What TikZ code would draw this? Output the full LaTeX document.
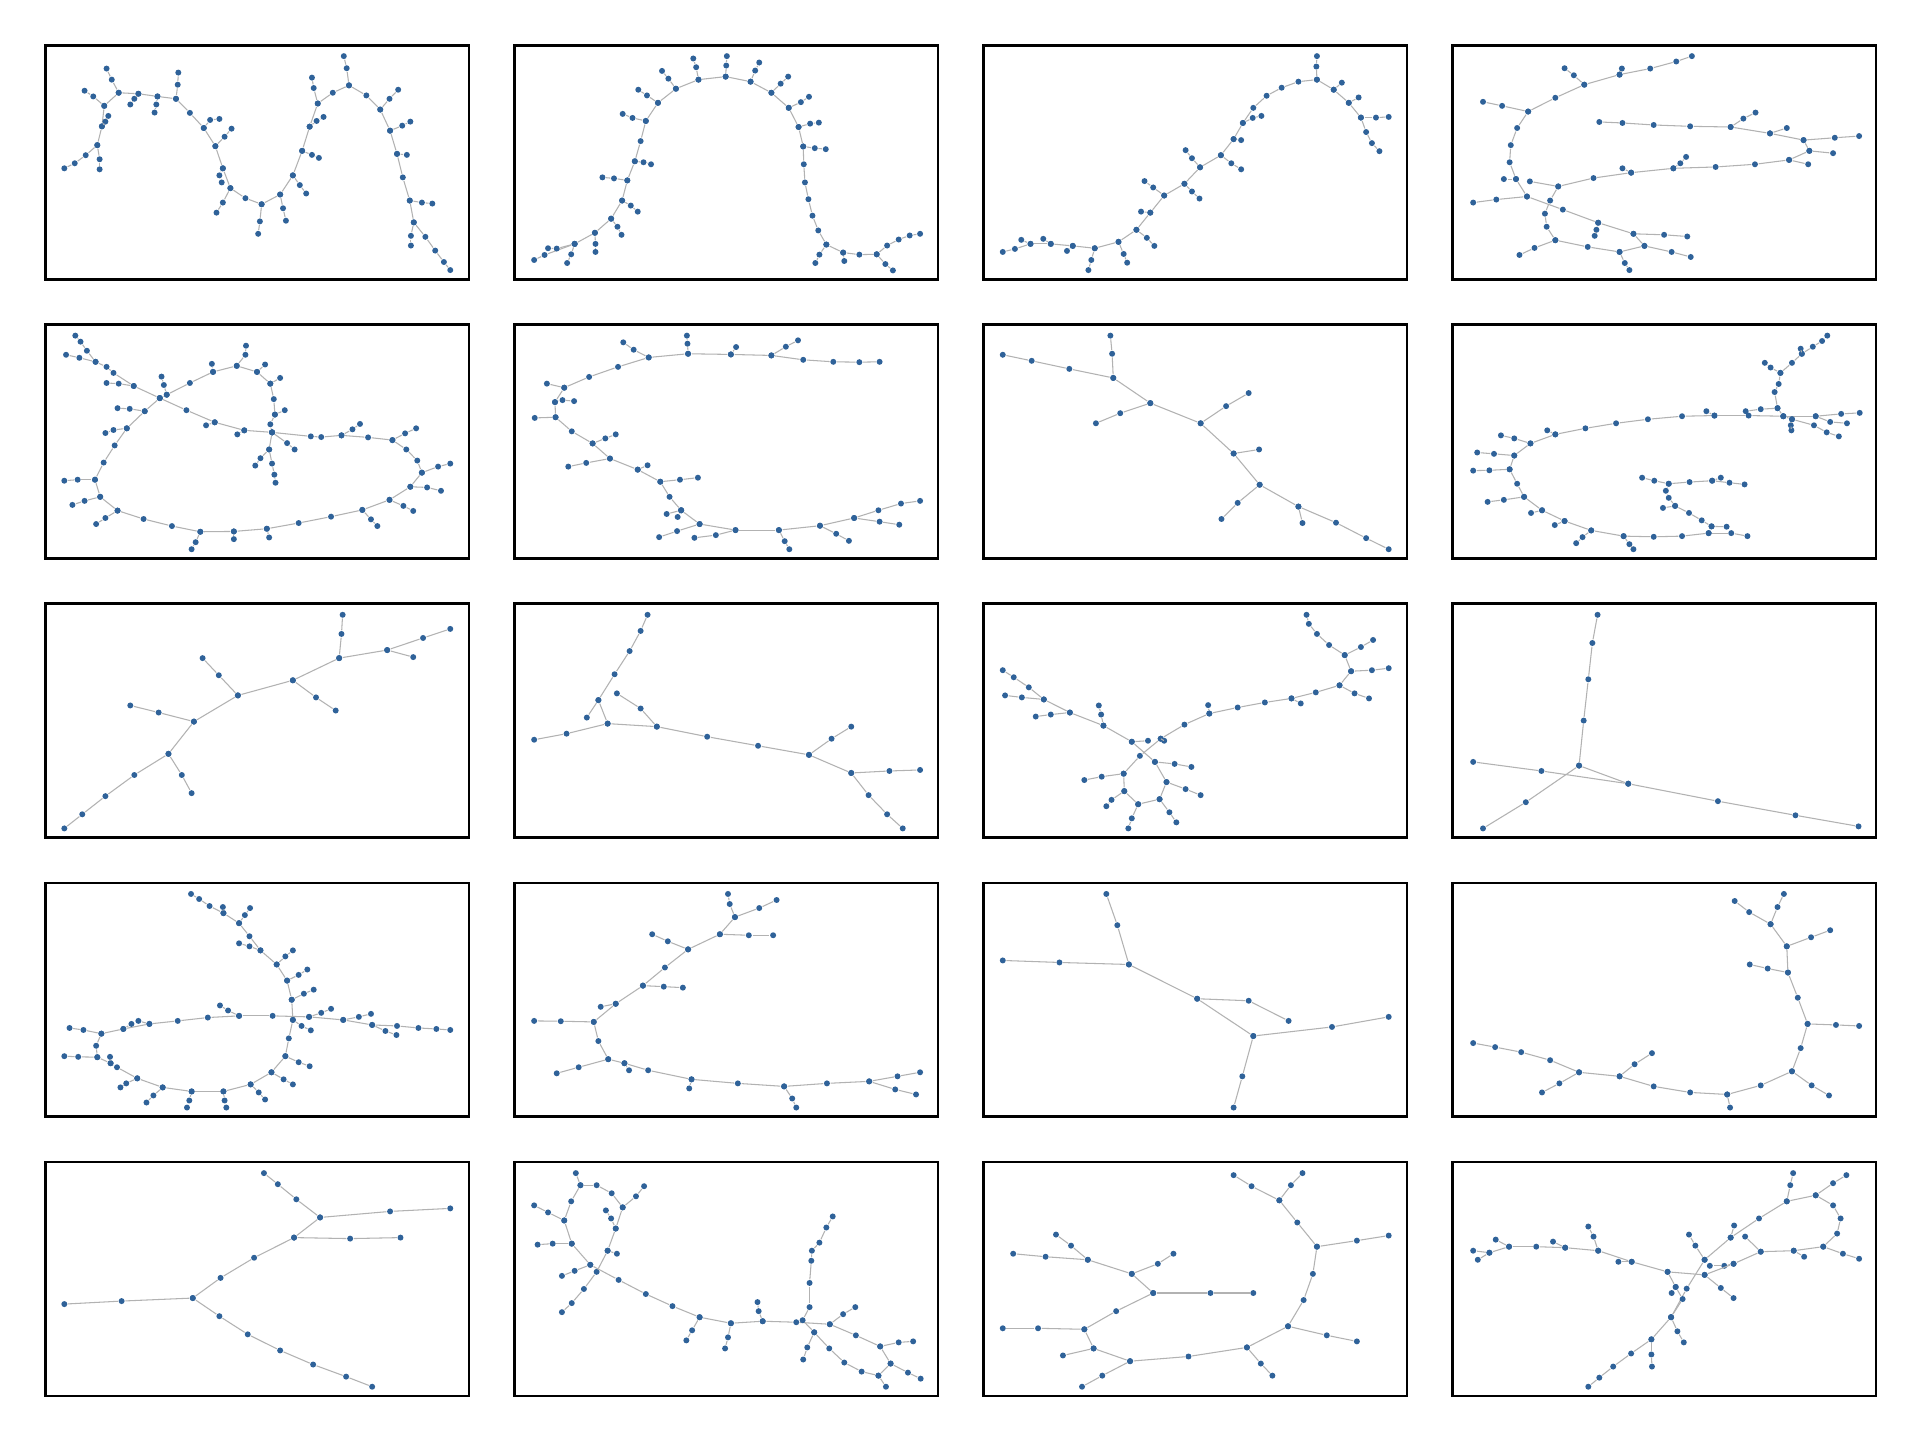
\documentclass[tikz,border=0pt]{standalone}
\definecolor{dotblue}{HTML}{2F6299}
\tikzset{
  dot/.style={circle,fill=dotblue,draw=none,inner sep=0pt,minimum size=1.7pt},
  edge/.style={draw=black!30,line width=0.3pt},
  panelbox/.style={draw=black,line width=0.75pt},
  zs/.style={x=0.00579cm,y=-0.00335cm}
}
\newcommand\tchain[1]{%
  \foreach \px/\py [count=\ci] in {#1}{\node[dot] (c\ci) at (\px,\py) {};}%
  \foreach \px/\py [count=\ci, remember=\ci as \cj (initially 0)] in {#1}{\ifnum\ci>1\relax\draw[edge] (c\cj) -- (c\ci);\fi}%
}
\begin{document}
\begin{tikzpicture}[x=0.01cm,y=-0.01cm]
\useasboundingbox (0,0) rectangle (1920,1440);
\fill[white] (0,0) rectangle (1920,1440);
\foreach \bx in {45.3,514.3,983.3,1452.3}{
  \foreach \by in {45.3,324.5,603.7,882.9,1162.1}{
    \draw[panelbox] (\bx,\by) rectangle ++(423.7,233.9);
  }
}
% ---------- row 1, panels 1-2
\begin{scope}[xshift=0.4cm,yshift=-0.4cm,zs]
\tchain{42/382,60/367,79/343,99/313,107/257,111/196,136/157,170/160,203/168,235/175,259/217,283/262,303/316,316/382,329/441,355/471,383/489,415/460,437/403,453/330,466/258,480/189,506/157,534/135,564/165,588/207,605/270,617/339,627/409,639/478,646/543,666/586,683/627,698/661,709/685}
\tchain{99/313,103/355,103/385}
\tchain{107/257,113/243,118/226}
\tchain{111/196,92/168,77/151}
\tchain{136/157,124/118,115/85}
\tchain{170/160,163/175,156/192}
\tchain{203/168,201/192,198/216}
\tchain{235/175,238/133,239/97}
\tchain{283/262,294/238,310/235}
\tchain{303/316,319/288,331/264}
\tchain{316/382,310/403,314/424}
\tchain{329/441,316/484,305/514}
\tchain{383/489,380/540,377/577}
\tchain{415/460,420/501,425/538}
\tchain{437/403,449/432,460/457}
\tchain{453/330,470/342,482/351}
\tchain{466/258,478/241,490/229}
\tchain{480/189,473/143,470/112}
\tchain{534/135,530/84,525/48}
\tchain{588/207,604/175,619/148}
\tchain{605/270,626/255,640/243}
\tchain{617/339,634/342}
\tchain{639/478,660/484,678/487}
\tchain{646/543,641/583,641/612}
% panel 2
\tchain{854/655,872/640,924/607,959/574,987/532,1006/478,1015/418,1028/361,1038/301,1047/241,1068/187,1099/145,1138/118,1185/109,1228/124,1264/157,1294/202,1311/259,1319/317,1320/370,1322/424,1328/474,1335/523,1345/567,1359/609,1388/633,1416/639,1446/638,1464/612,1484/594,1503/582,1521/577}
\tchain{924/607,893/621,878/620}
\tchain{924/607,918/638,911/664}
\tchain{959/574,960/607,960/631}
\tchain{987/532,998/556,1005/580}
\tchain{1006/478,1021/493,1033/511}
\tchain{1015/418,992/412,972/409}
\tchain{1028/361,1043/364,1056/370}
\tchain{1047/241,1024/232,1007/220}
\tchain{1068/187,1049/165,1034/148}
\tchain{1099/145,1086/115,1075/92}
\tchain{1138/118,1134/81,1129/55}
\tchain{1185/109,1186/76,1187/48}
\tchain{1228/124,1236/91,1243/67}
\tchain{1264/157,1280/130,1293/109}
\tchain{1294/202,1315/185,1329/169}
\tchain{1311/259,1331/249,1346/246}
\tchain{1319/317,1339/322,1358/325}
\tchain{1359/609,1347/639,1340/664}
\tchain{1388/633,1390/658}
\tchain{1446/638,1461/667,1474/686}
\end{scope}
% ---------- row 1, panels 3-4
\begin{scope}[xshift=9.75cm,yshift=-0.4cm,zs]
\tchain{47/631,68/622,95/607,130/607,168/613,206/620,247/601,278/565,302/514,326/463,361/428,388/379,424/343,446/295,462/247,480/202,503/166,529/142,558/124,590/118,619/148,645/187,666/231,675/274,685/307,698/331}
\tchain{95/607,79/595}
\tchain{130/607,117/592}
\tchain{168/613,158/628}
\tchain{206/620,200/655,195/685}
\tchain{247/601,256/637,262/663}
\tchain{278/565,296/589,309/613}
\tchain{302/514,286/511}
\tchain{326/463,307/439,292/420}
\tchain{361/428,374/451,387/472}
\tchain{388/379,374/352,363/328}
\tchain{424/343,442/367,459/385}
\tchain{446/295,459/298}
\tchain{462/247,479/232,494/226}
\tchain{590/118,589/79,590/48}
\tchain{619/148,633/127}
\tchain{645/187,662/171}
\tchain{666/231,692/231,714/229}
% panel 4
\tchain{1238/48,1211/64,1166/85,1113/103,1052/133,1002/172,955/213,936/262,925/313,923/364,934/414,953/466,1015/505,1076/544,1137/577,1190/580,1230/585}
\tchain{1113/103,1117/85}
\tchain{1052/133,1034/105,1018/84}
\tchain{955/213,910/196,877/184}
\tchain{934/414,913/414}
\tchain{953/466,900/475,860/484}
\tchain{1076/544,1073/565,1070/583}
\tchain{958/421,1007/436,1068/411,1133/395,1206/382,1279/378,1347/370,1406/357,1441/330,1431/298,1373/278,1305/259,1235/257,1172/253,1118/247,1078/244}
\tchain{1133/395,1118/382}
\tchain{1206/382,1218/367,1228/348}
\tchain{1406/357,1439/370}
\tchain{1441/330,1482/337}
\tchain{1431/298,1485/291,1527/286}
\tchain{1373/278,1402/262}
\tchain{1305/259,1327/234,1348/216}
\tchain{1007/436,993/478,984/517,987/556,1002/596,1058/616,1113/631,1156/613,1203/631,1236/646}
\tchain{1002/596,966/619,940/640}
\tchain{1113/631,1122/664,1130/685}
\tchain{1156/613,1137/577}
\end{scope}
% ---------- row 2, panels 5-6
\begin{scope}[xshift=0.4cm,yshift=-3.2cm,zs]
\tchain{61/46,70/64,81/91,96/124,115/139,127/157,162/196,207/232,253/268,302/304,353/328,401/334,468/346,486/348,521/343,567/349,609/357,633/385,652/418,660/454,640/496,604/535,557/565,503/585,447/604,392/621,335/629,277/630,228/613,179/592,134/567,104/526,95/475,110/424,129/373,150/322,181/271,207/232}
\tchain{96/124,68/112,45/103}
\tchain{162/196,136/189,115/187}
\tchain{207/232,219/222,259/187,299/154,340/136,375/154,398/189,404/235,406/281,398/310,401/334}
\tchain{219/222,214/193,210/168}
\tchain{299/154,297/130}
\tchain{340/136,355/103,356/76}
\tchain{375/154,389/132}
\tchain{398/189,415/172}
\tchain{406/281,423/268}
\tchain{353/328,341/340}
\tchain{302/304,287/313}
\tchain{401/334,396/385,401/427,405/460,407/484}
\tchain{396/385,381/411,372/433}
\tchain{401/334,427/366,440/385}
\tchain{521/343,540/325,553/309}
\tchain{609/357,631/337,650/322}
\tchain{660/454,688/436,709/427}
\tchain{640/496,669/498,693/508}
\tchain{604/535,628/553,645/568}
\tchain{557/565,572/593,583/613}
\tchain{392/621,396/647}
\tchain{335/629,335/652}
\tchain{277/630,269/661,262/682}
\tchain{134/567,113/589,97/607}
\tchain{104/526,77/538,56/550}
\tchain{95/475,65/475,42/478}
\tchain{150/322,127/327,113/336}
\tchain{181/271,155/264,134/262}
% panel 6
\tchain{1451/124,1416/125,1371/124,1319/118,1264/105,1194/102,1120/100,1052/111,999/139,949/169,906/201,890/244,891/289,919/331,955/367,985/412,1033/445,1072/481,1088/526,1108/566,1140/607,1202/625,1277/625,1348/612,1407/589,1449/566,1488/546,1521/538}
\tchain{1264/105,1289/79,1310/60}
\tchain{1194/102,1203/80}
\tchain{1120/100,1119/70,1118/46}
\tchain{1052/111,1026/88,1008/66}
\tchain{906/201,876/189}
\tchain{890/244,903/238,923/241}
\tchain{891/289,855/291}
\tchain{955/367,977/352,995/340}
\tchain{985/412,944/425,913/436}
\tchain{1033/445,1050/432}
\tchain{1072/481,1106/475,1137/469}
\tchain{1108/566,1083/577}
\tchain{1108/566,1102/586}
\tchain{1140/607,1101/628,1070/646}
\tchain{1202/625,1168/640,1131/648}
\tchain{1277/625,1287/658,1295/682}
\tchain{1348/612,1376/636,1398/657}
\tchain{1407/589,1451/600,1485/609}
\end{scope}
% ---------- row 2, panels 7-8
\begin{scope}[xshift=9.75cm,yshift=-3.2cm,zs]
\tchain{47/103,97/121,162/145,238/172,302/247,389/307,446/397,491/490,558/555,623/603,675/649,714/682}
\tchain{238/172,236/100,233/46}
\tchain{302/247,250/277,208/307}
\tchain{389/307,433/256,472/217}
\tchain{446/397,490/385}
\tchain{491/490,453/544,425/592}
\tchain{558/555,565/604}
% panel 8
\tchain{1528/276,1496/279,1452/286,1396/286,1336/284,1277/284,1221/286,1162/295,1107/307,1054/322,1002/340,959/367,931/403,923/444,936/487,948/526,979/566,1018/598,1064/626,1120/643,1172/645,1221/643,1267/634,1306/634,1334/643}
\tchain{1267/634,1272/614,1255/596,1233/574,1209/553,1198/529,1193/508,1198/487,1234/482,1273/478,1303/484,1329/489}
\tchain{1272/614,1298/615}
\tchain{1209/553,1188/559}
\tchain{1198/487,1173/478,1152/469}
\tchain{1273/478,1288/469}
\tchain{1002/340,988/328}
\tchain{959/367,931/352,908/343}
\tchain{931/403,896/398,867/394}
\tchain{923/444,888/447,860/448}
\tchain{948/526,913/535,885/541}
\tchain{979/566,960/574}
\tchain{1018/598,1001/610}
\tchain{1064/626,1049/646,1038/664}
\tchain{1120/643,1130/667,1137/682}
\tchain{1277/284,1263/271}
\tchain{1396/286,1386/262,1381/214,1388/190,1391/157,1411/127,1428/100,1447/79,1463/62,1472/46}
\tchain{1428/100,1426/85}
\tchain{1391/157,1374/141,1364/127}
\tchain{1386/262,1357/265,1331/271}
\tchain{1396/286,1411/295,1409/313,1410/328}
\tchain{1411/295,1449/313,1471/334,1492/346}
\tchain{1452/286,1477/303,1506/307}
\end{scope}
% ---------- row 3, panels 9-10
\begin{scope}[xshift=0.4cm,yshift=-5.98cm,zs]
\tchain{42/685,73/643,113/589,163/526,222/463,266/367,342/289,437/244,517/178,600/154,662/118,709/91}
\tchain{222/463,245/526,262/580}
\tchain{266/367,205/340,156/319}
\tchain{342/289,309/229,281/178}
\tchain{437/244,477/295,511/334}
\tchain{517/178,521/106,523/49}
\tchain{600/154,645/175}
% panel 10
\tchain{1050/49,1038/97,1019/157,993/226,965/303,981/373,1066/382,1153/412,1241/439,1329/466,1402/520,1468/514,1521/511}
\tchain{965/303,945/355}
\tchain{981/373,910/403,854/421}
\tchain{1066/382,1038/328,997/283}
\tchain{1329/466,1368/418,1402/382}
\tchain{1402/520,1432/586,1464/643,1491/685}
\end{scope}
% ---------- row 3, panels 11-12
\begin{scope}[xshift=9.75cm,yshift=-5.98cm,zs]
\tchain{572/49,576/76,590/106,611/139,638/169,649/217,629/259,588/280,546/298,500/310,453/325,404/343,361/376,320/418,284/469,256/522,257/574,281/613,318/598,330/547,310/487,270/427,221/379,163/340,118/301,92/265,66/235,47/214}
\tchain{638/169,666/145,687/124}
\tchain{649/217,685/214,714/208}
\tchain{629/259,655/283,680/298}
\tchain{546/298,562/313}
\tchain{404/343,402/318}
\tchain{270/427,298/424}
\tchain{320/418,326/424}
\tchain{118/301,80/295,51/289}
\tchain{163/340,130/346,104/352}
\tchain{221/379,217/346,213/319}
\tchain{310/487,344/493,373/502}
\tchain{256/522,218/531,188/541}
\tchain{257/574,235/600,226/619}
\tchain{281/613,270/655,264/685}
\tchain{318/598,335/637,347/667}
\tchain{330/547,363/568,389/586}
% panel 12
\tchain{1075/49,1066/133,1059/241,1051/364,1043/498,1128/552}
\tchain{860/487,978/514,1128/552,1283/604,1417/646,1526/679}
\tchain{1043/498,951/607,877/685}
\end{scope}
% ---------- row 4, panels 13-14
\begin{scope}[xshift=0.4cm,yshift=-8.78cm,zs]
\tchain{261/46,275/61,293/82,317/103,344/133,362/172,381/214,409/256,427/304,435/361,437/421,430/476,424/529,400/577,364/613,317/634,262/634,212/622,168/595,133/562,122/550,99/532,97/498,106/462,144/448,189/433,238/424,290/414,344/409,402/409,465/412,524/421,574/436,617/439,654/445,685/448,709/451}
\tchain{317/103,316/85}
\tchain{344/133,354/109,363/88}
\tchain{381/214,362/202,344/193}
\tchain{409/256,424/232,437/214}
\tchain{427/304,447/287,462/271}
\tchain{435/361,456/343,473/331}
\tchain{344/409,325/393,311/378}
\tchain{465/412,486/400,503/388}
\tchain{437/421,452/439,468/452}
\tchain{524/421,551/412,572/403}
\tchain{574/436,597/454,616/466}
\tchain{189/433,170/424}
\tchain{144/448,158/433}
\tchain{106/462,75/451,51/445}
\tchain{99/532,66/531,42/529}
\tchain{122/550,121/531}
\tchain{168/595,149/610,139/622}
\tchain{212/622,196/646,184/667}
\tchain{262/634,258/661,254/682}
\tchain{317/634,319/661,322/682}
\tchain{364/613,378/637,389/658}
\tchain{400/577,421/598,437/613}
\tchain{424/529,447/547,466/559}
% panel 14
\tchain{1189/46,1192/76,1201/115,1175/166,1120/211,1080/265,1042/319,995/373,957/427,965/484,982/538,1010/550,1051/571,1126/598,1206/610,1286/619,1360/610,1433/604,1482/589,1521/577}
\tchain{1201/115,1243/88,1273/64}
\tchain{1175/166,1225/169,1267/169}
\tchain{1120/211,1085/187,1058/166}
\tchain{1042/319,1078/322,1111/325}
\tchain{995/373,969/382}
\tchain{957/427,900/425,854/424}
\tchain{982/538,931/562,893/580}
\tchain{1010/550,1018/571}
\tchain{1126/598,1122/625}
\tchain{1286/619,1300/655,1307/682}
\tchain{1433/604,1478/628,1514/643}
\end{scope}
% ---------- row 4, panels 15-16
\begin{scope}[xshift=9.75cm,yshift=-8.78cm,zs]
\tchain{226/46,245/139,265/256,383/358,480/469,616/442,714/412}
\tchain{47/244,145/250,265/256}
\tchain{383/358,472/364,541/424}
\tchain{480/469,461/589,446/682}
% panel 16
\tchain{860/490,898/502,943/517,993/541,1043/577,1113/589,1172/619,1235/637,1299/643,1357/616,1411/574,1426/505,1438/433,1421/355,1404/280,1402/202,1374/136,1386/85,1397/46}
\tchain{1374/136,1337/100,1312/67}
\tchain{1402/202,1444/175,1477/154}
\tchain{1404/280,1369/268,1338/256}
\tchain{1438/433,1487/436,1527/439}
\tchain{1411/574,1445/616,1475/646}
\tchain{1299/643,1304/682}
\tchain{1113/589,1139/553,1169/520}
\tchain{1043/577,1009/610,979/637}
\end{scope}
% ---------- row 5, panels 17-18
\begin{scope}[xshift=0.4cm,yshift=-11.57cm,zs]
\tchain{387/46,411/79,443/124,484/178,605/160,709/151}
\tchain{484/178,439/238,536/241,623/238}
\tchain{439/238,370/298,312/358,264/418,141/427,42/436}
\tchain{264/418,310/472,359/526,415/574,472/616,529/652,574/682}
% panel 18
\tchain{926/46,934/82,962/82,988/106,1007/148,995/211,981/277,962/340,940/391,919/433,902/460}
\tchain{934/82,918/130,906/187,919/256,951/319,1000/364,1047/406,1093/442,1140/475,1194/493,1249/487,1307/490,1365/496,1410/529,1452/562,1470/613,1500/640,1522/658}
\tchain{1007/148,1030/115,1044/85}
\tchain{906/187,878/163,854/142}
\tchain{919/256,886/256,860/259}
\tchain{995/211,987/181,978/157}
\tchain{981/277,997/286}
\tchain{951/319,924/337,902/352}
\tchain{1140/475,1127/514,1117/544}
\tchain{1194/493,1189/535,1184/568}
\tchain{1249/487,1242/457,1240/430}
\tchain{1452/562,1484/550,1509/547}
\tchain{1365/496,1388/466,1409/445}
\tchain{1370/175,1359/208,1347/253,1334/277,1333/307,1330/373,1330/445,1318/484,1338/520,1364/568,1390/610,1420/637,1449/649,1462/682}
\tchain{1449/649,1470/613}
\tchain{1338/520,1326/565,1319/601}
\end{scope}
% ---------- row 5, panels 19-20
\begin{scope}[xshift=9.75cm,yshift=-11.57cm,zs]
\tchain{446/52,477/85,525/127,556/193,590/265,583/346,567/424,540/502,469/565,368/592,267/606,204/568,188/511,243/457,307/403,406/403,480/403}
\tchain{525/127,545/82,565/46}
\tchain{590/265,659/247,714/232}
\tchain{540/502,607/529,659/547}
\tchain{307/403,270/346,194/304,165/262,139/229}
\tchain{194/304,121/295,65/286}
\tchain{270/346,315/316,342/286}
\tchain{188/511,108/508,47/508}
\tchain{204/568,151/589}
\tchain{267/606,219/649,184/682}
\tchain{469/565,493/613,513/649}
% panel 20
\tchain{1059/682,1078/655,1102/622,1133/583,1168/541,1202/475,1229/390,1260/304,1305/238,1354/181,1402/130,1452/112,1482/142,1495/181,1489/226,1465/265,1414/277,1357/280,1310/316,1294/322,1269/322}
\tchain{860/277,888/283,922/265,969/265,1019/268,1076/277,1134/310,1196/340,1260/349,1310/316}
\tchain{888/283,868/304}
\tchain{922/265,899/244}
\tchain{1019/268,998/250}
\tchain{1076/277,1068/235,1059/205}
\tchain{1134/310,1111/310}
\tchain{1196/340,1210/385,1222/421,1202/475}
\tchain{1210/385,1203/403}
\tchain{1260/304,1244/262,1233/229}
\tchain{1305/238,1311/202}
\tchain{1357/280,1330/235}
\tchain{1402/130,1408/82,1413/46}
\tchain{1452/112,1482/76,1505/52}
\tchain{1465/265,1499/286,1527/301}
\tchain{1414/277,1432/295}
\tchain{1260/349,1288/388,1310/418}
\tchain{1168/541,1168/586,1169/622}
\tchain{1202/475,1213/517,1224/550}
\end{scope}
\end{tikzpicture}
\end{document}
